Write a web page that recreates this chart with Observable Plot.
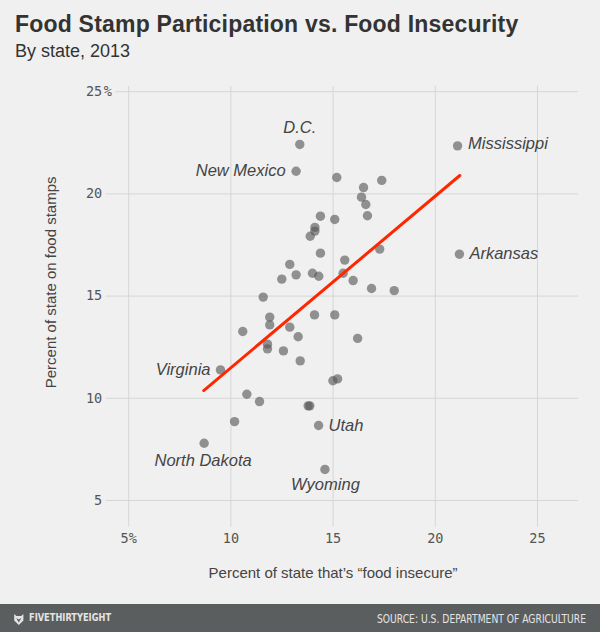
<!DOCTYPE html>
<html>
<head>
<meta charset="utf-8">
<script src="https://cdn.jsdelivr.net/npm/d3@7"></script>
<script src="https://cdn.jsdelivr.net/npm/@observablehq/plot@0.6"></script>
<style>
  html, body { margin: 0; padding: 0; background: #f0f0f0; }
  body { width: 600px; height: 632px; overflow: hidden; font-family: "Liberation Sans", Arial, sans-serif; }
  #header { position: relative; height: 75px; }
  #title { position: absolute; left: 15px; top: 13px; font-size: 23px; line-height: 23px; font-weight: bold; color: #333; letter-spacing: 0.2px; white-space: nowrap; }
  #subtitle { position: absolute; left: 15px; top: 41.5px; font-size: 18px; line-height: 18px; color: #333; white-space: nowrap; }
  #chart { height: 529px; }
  #chart svg { display: block; overflow: visible; }
  #footer { height: 28px; background: #5b5e5f; }
  #footer svg { display: block; }
</style>
</head>
<body>
<div id="header">
  <div id="title">Food Stamp Participation vs. Food Insecurity</div>
  <div id="subtitle">By state, 2013</div>
</div>
<div id="chart"></div>
<div id="footer">
  <svg width="600" height="28">
    <path d="M14.2,10 L16.4,12 L21.2,12 L23.4,10 L23.4,16.5 L18.8,21 L14.2,16.5 Z M16.2,14 L18.8,18.6 L21.4,14 L18.8,15.6 Z" fill="#e4e4e4" fill-rule="evenodd"/>
    <text transform="translate(29,17.3) scale(0.92,1)" font-family="'DejaVu Sans Condensed', 'DejaVu Sans', sans-serif" font-size="10" font-weight="bold" fill="#e4e4e4">FIVETHIRTYEIGHT</text>
    <text transform="translate(377,18.7) scale(0.89,1)" font-family="'DejaVu Sans Condensed', 'DejaVu Sans', sans-serif" font-size="11.5" fill="#e4e4e4">SOURCE: U.S. DEPARTMENT OF AGRICULTURE</text>
  </svg>
</div>
<script>
// Percent of state that's "food insecure" (x) and percent on food stamps (y)
const stateNames = ["D.C.", "New Mexico", "Mississippi", "Arkansas", "Virginia", "Utah", "North Dakota", "Wyoming",
  "", "", "", "", "", "", "", "", "", "", "", "", "", "", "", "", "", "", "", "", "", "", "", "", "", "", "", "", "", "", "", "", "", "", "", "", "", "", "", "", "", "", ""];
const foodInsecure = [13.37, 13.19, 21.09, 21.18, 9.49, 14.29, 8.69, 14.60,
  15.18, 17.38, 16.49, 16.39, 16.60, 16.68, 14.38, 15.08, 14.11, 14.11, 13.88, 17.28,
  14.38, 15.57, 12.88, 13.99, 15.49, 13.19, 14.30, 12.49, 15.98, 16.88, 17.99, 11.58,
  11.90, 14.09, 15.08, 11.90, 12.88, 10.58, 13.29, 16.20, 11.79, 11.79, 12.57, 13.39,
  15.22, 14.99, 10.78, 11.40, 13.78, 13.86, 10.18];
const foodStamps = [22.42, 21.11, 22.35, 17.05, 11.39, 8.67, 7.80, 6.52,
  20.80, 20.66, 20.31, 19.84, 19.48, 18.93, 18.91, 18.75, 18.36, 18.18, 17.93, 17.30,
  17.10, 16.76, 16.55, 16.12, 16.12, 16.04, 15.97, 15.83, 15.76, 15.37, 15.27, 14.95,
  13.97, 14.08, 14.08, 13.59, 13.48, 13.27, 13.01, 12.93, 12.65, 12.42, 12.32, 11.83,
  10.95, 10.86, 10.20, 9.84, 9.63, 9.63, 8.86];
// Trend line endpoints (x = food insecure %, y = food stamps %)
const trendX = [8.67, 21.2];
const trendY = [10.38, 20.9];
// Axis ticks
const xTicks = [5, 10, 15, 20, 25];
const yTicks = [5, 10, 15, 20, 25];

const points = stateNames.map((name, i) => ({name, x: foodInsecure[i], y: foodStamps[i]}));
const trend = trendX.map((x, i) => ({x, y: trendY[i]}));

// label placement (style, kept apart from the data)
const placement = {
  "D.C.": {textAnchor: "middle", dx: 0, dy: -17},
  "New Mexico": {textAnchor: "end", dx: -10.5, dy: 0},
  "Mississippi": {textAnchor: "start", dx: 10.5, dy: -2},
  "Arkansas": {textAnchor: "start", dx: 10, dy: -0.5},
  "Virginia": {textAnchor: "end", dx: -10, dy: 0},
  "Utah": {textAnchor: "start", dx: 10, dy: 0.5},
  "North Dakota": {textAnchor: "middle", dx: -1, dy: 17},
  "Wyoming": {textAnchor: "middle", dx: 0.5, dy: 15}
};

const gridColor = "#d6d6d6";
const tickFont = "'DejaVu Sans Mono', monospace";

const labelMarks = points.filter(d => d.name).map(d => Plot.text([d], {
  x: "x", y: "y", text: "name",
  ...placement[d.name],
  fontStyle: "italic", fontSize: 16.5, fill: "#444",
  fontFamily: "'Liberation Sans', Arial, sans-serif"
}));

const chart = Plot.plot({
  width: 600,
  height: 529,
  marginTop: 11,
  marginBottom: 77.3,
  marginLeft: 105.7,
  marginRight: 22,
  x: {domain: [3.899, 27.006]},
  y: {domain: [3.694, 25.254]},
  style: {background: "transparent", fontFamily: "'Liberation Sans', Arial, sans-serif"},
  marks: [
    Plot.gridX(xTicks, {stroke: gridColor, strokeOpacity: 1, strokeWidth: 1}),
    Plot.ruleY(yTicks.filter(d => d !== 25), {stroke: gridColor, strokeWidth: 1}),
    Plot.ruleY([25], {stroke: gridColor, strokeWidth: 1, insetLeft: 9.5}),
    Plot.axisX(xTicks, {tickSize: 0, tickPadding: 6, tickFormat: d => d === 5 ? "5%" : String(d),
      fontSize: 13.5, fontFamily: tickFont, fill: "#555", label: null}),
    Plot.axisY(yTicks, {tickSize: 0, tickPadding: 4, fontSize: 13.5, fontFamily: tickFont, fill: "#555", label: null}),
    Plot.text([25], {y: d => d, text: () => "%", frameAnchor: "left", textAnchor: "start", dx: -2.5,
      fontSize: 13.5, fontFamily: tickFont, fill: "#555"}),
    Plot.text(["Percent of state that\u2019s \u201cfood insecure\u201d"], {text: d => d, frameAnchor: "bottom",
      textAnchor: "middle", lineAnchor: "middle",
      dx: -9.3, dy: 46.3, fontSize: 15, fill: "#444"}),
    Plot.text(["Percent of state on food stamps"], {text: d => d, frameAnchor: "left", rotate: -90,
      textAnchor: "middle", lineAnchor: "middle",
      dx: -55, dy: -24.5, fontSize: 15, fill: "#444"}),
    Plot.dot(points, {x: "x", y: "y", r: 4.7, fill: "#555", fillOpacity: 0.62, stroke: "none"}),
    Plot.line(trend, {x: "x", y: "y", stroke: "#ff2700", strokeWidth: 3}),
    ...labelMarks
  ]
});
document.getElementById("chart").appendChild(chart);
</script>
</body>
</html>
